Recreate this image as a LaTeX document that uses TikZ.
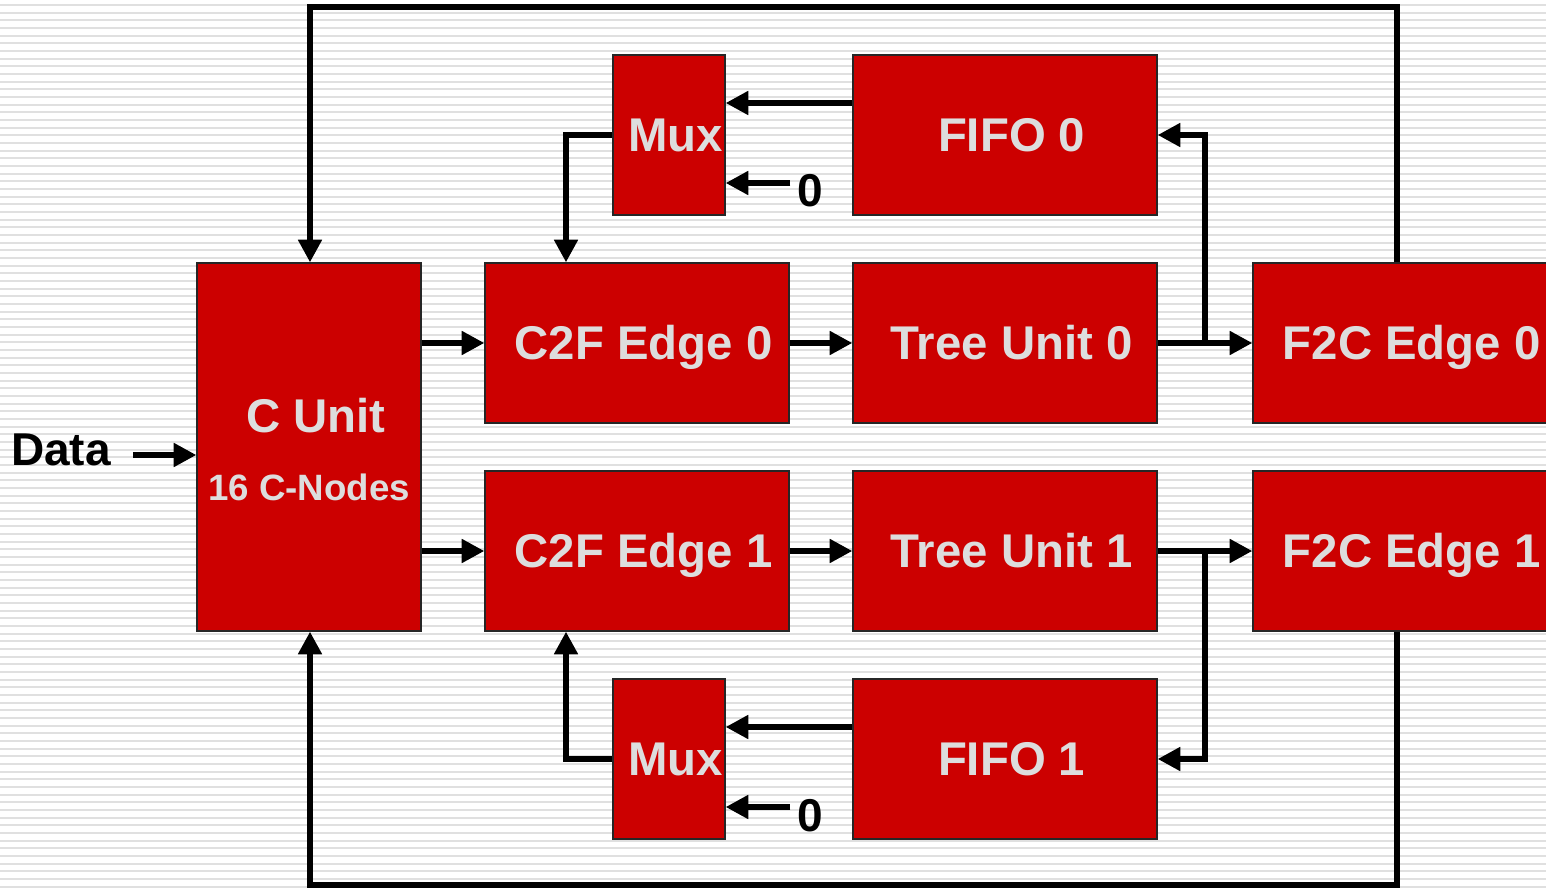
\documentclass[tikz,border=0pt]{standalone}
\usepackage{fontspec}
\setmainfont{Liberation Sans}
\usetikzlibrary{arrows.meta,calc}
\definecolor{boxred}{HTML}{CC0000}
\definecolor{boxtxt}{HTML}{DDDDDD}
\definecolor{stripe}{HTML}{E0E0E0}
\begin{document}
\begin{tikzpicture}[x=0.75pt,y=-0.75pt,
  box/.style={draw=black!85, line width=0.9pt, fill=boxred, text=boxtxt,
    font=\bfseries\fontsize{35.5}{40}\selectfont, text height=25.4pt, text depth=0pt, inner sep=0pt},
  wide/.style={minimum width=228pt, minimum height=120pt},
  narrow/.style={minimum width=84pt, minimum height=120pt},
  arr/.style={line width=4.7pt, -{Triangle[length=17pt,width=17pt]}},
  bigtxt/.style={text=boxtxt, font=\bfseries\fontsize{35.5}{40}\selectfont, anchor=base, inner sep=0pt},
  smalltxt/.style={text=boxtxt, font=\bfseries\fontsize{27.5}{32}\selectfont, anchor=base, inner sep=0pt},
  blacktxt/.style={text=black, font=\bfseries\fontsize{34.5}{40}\selectfont, anchor=base, inner sep=5pt},
  ]
\useasboundingbox (0,0) rectangle (1546,888);
\clip (0,0) rectangle (1546,888);
\fill[white] (0,0) rectangle (1546,888);
\foreach \i in {0,...,115} \draw[stripe, line width=1.6pt] (0,{5+7.667*\i}) -- (1546,{5+7.667*\i});

% boxes
\node[box, minimum width=168pt, minimum height=276pt] (cu) at (309,447) {};
\node[bigtxt] (cut) at (316,432) {C Unit};
\node[smalltxt] (cun) at (309,500) {16 C-Nodes};

\node[box, wide] (c2f0) at (637,343) {\hspace*{10pt}C2F Edge 0};
\node[box, wide] (c2f1) at (637,551) {\hspace*{10pt}C2F Edge 1};
\node[box, wide] (tu0) at (1005,343) {\hspace*{10pt}Tree Unit 0};
\node[box, wide] (tu1) at (1005,551) {\hspace*{10pt}Tree Unit 1};
\node[box, wide] (f2c0) at (1405,343) {\hspace*{10pt}F2C Edge 0};
\node[box, wide] (f2c1) at (1405,551) {\hspace*{10pt}F2C Edge 1};
\node[box, wide] (fifo0) at (1005,135) {\hspace*{10pt}FIFO 0};
\node[box, wide] (fifo1) at (1005,759) {\hspace*{10pt}FIFO 1};
\node[box, narrow] (muxa) at (669,135) {\hspace*{10pt}Mux};
\node[box, narrow] (muxb) at (669,759) {\hspace*{10pt}Mux};

% labels
\node[blacktxt] (data) at (61,465) {Data};
\node[blacktxt] (z0) at (810,207) {0};
\node[blacktxt] (z1) at (810,831) {0};

% coordinates
\coordinate (lt) at (310,7);
\coordinate (rt) at (1397,7);
\coordinate (lb) at (310,885);
\coordinate (rb) at (1397,885);
\coordinate (din) at (133,455);
\coordinate (bx) at (566,0);
\coordinate (rx) at (1205,0);
\path (muxa.east) ++(0,48) coordinate (m0);
\path (muxb.east) ++(0,48) coordinate (m1);

% connectors
\draw[arr] (rt |- f2c0.north) -- (rt) -- (lt) -- (lt |- cu.north);
\draw[arr] (rb |- f2c1.south) -- (rb) -- (lb) -- (lb |- cu.south);
\draw[arr] (din) -- (din -| cu.west);

\draw[arr] (cu.east |- c2f0.west) -- (c2f0.west);
\draw[arr] (cu.east |- c2f1.west) -- (c2f1.west);
\draw[arr] (c2f0) -- (tu0);
\draw[arr] (c2f1) -- (tu1);
\draw[arr] (tu0) -- (f2c0);
\draw[arr] (tu1) -- (f2c1);
\draw[arr] (rx |- tu0.east) |- (fifo0.east);
\draw[arr] (rx |- tu1.east) |- (fifo1.east);

\draw[arr] ([yshift=24pt]fifo0.west) -- ([yshift=24pt]muxa.east);
\draw[arr] ([yshift=24pt]fifo1.west) -- ([yshift=24pt]muxb.east);
\draw[arr] (m0 -| z0.west) -- (m0);
\draw[arr] (m1 -| z1.west) -- (m1);
\draw[arr] (muxa.west) -| (bx |- c2f0.north);
\draw[arr] (muxb.west) -| (bx |- c2f1.south);
\end{tikzpicture}
\end{document}
